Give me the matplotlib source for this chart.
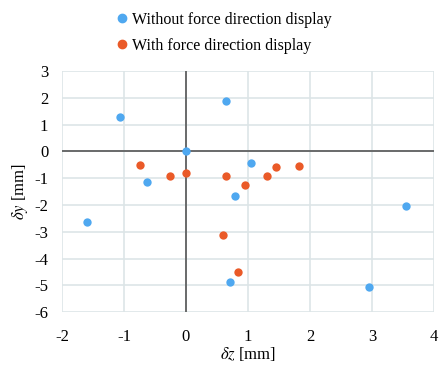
import matplotlib
matplotlib.use("Agg")
import matplotlib.pyplot as plt
from matplotlib.lines import Line2D

plt.rcParams['font.family'] = ['Liberation Serif', 'DejaVu Serif']
plt.rcParams['mathtext.fontset'] = 'stix'
plt.rcParams['axes.unicode_minus'] = False

# Without force direction display
dz_without = [-1.06, 0.0, -0.63, -1.60, 0.64, 1.05, 0.79, 3.55, 0.71, 2.95]
dy_without = [1.29, 0.0, -1.13, -2.64, 1.89, -0.42, -1.67, -2.03, -4.87, -5.05]
# With force direction display
dz_with = [-0.74, -0.25, 0.0, 0.65, 0.96, 1.30, 1.45, 1.82, 0.60, 0.84]
dy_with = [-0.51, -0.92, -0.82, -0.92, -1.25, -0.92, -0.58, -0.56, -3.11, -4.50]

blue = "#4fa8f0"
orange = "#ea5a28"

fig = plt.figure(figsize=(4.4, 3.65), dpi=100)
ax = fig.add_axes([0.141, 0.145, 0.845, 0.66])

ax.scatter(dz_without, dy_without, s=36, color=blue, zorder=3, linewidths=0)
ax.scatter(dz_with, dy_with, s=36, color=orange, zorder=3, linewidths=0)

ax.set_xlim(-2, 4)
ax.set_ylim(-6, 3)
ax.set_xticks(range(-2, 5))
ax.set_yticks(range(-6, 4))
ax.grid(True, color="#dde5e7", linewidth=1.2)
ax.set_axisbelow(True)
for s in ax.spines.values():
    s.set_visible(False)
ax.axhline(0, color="#555555", linewidth=1.2, zorder=2)
ax.axvline(0, color="#555555", linewidth=1.2, zorder=2)
ax.tick_params(axis='x', length=0, labelsize=12, pad=12)
ax.tick_params(axis='y', length=0, labelsize=12, pad=10)

ax.set_xlabel(r"$\delta z$ [mm]", fontsize=12, labelpad=0)
ax.set_ylabel(r"$\delta y$ [mm]", fontsize=12, labelpad=3)

handles = [Line2D([], [], marker='o', linestyle='', color=blue, markersize=6),
           Line2D([], [], marker='o', linestyle='', color=orange, markersize=6)]
fig.legend(handles, ["Without force direction display", "With force direction display"],
           loc="upper left", bbox_to_anchor=(0.24, 0.99), frameon=False,
           fontsize=11.5, handletextpad=0.15, labelspacing=0.62, handlelength=1.0,
           borderaxespad=0.1)

fig.savefig("out.png", dpi=100)
